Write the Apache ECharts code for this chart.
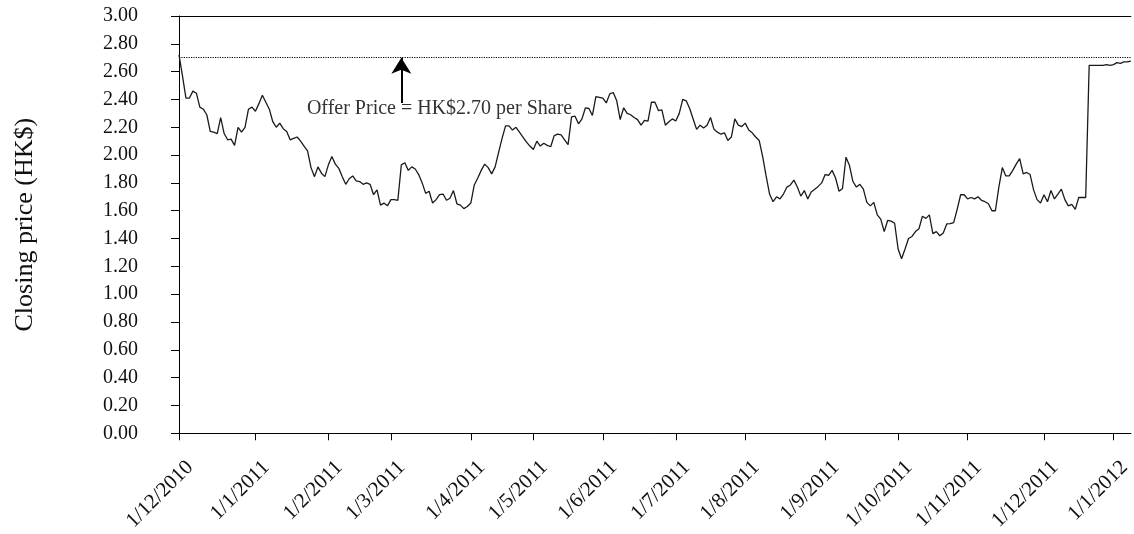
<!doctype html>
<html>
    <head>
        <meta charset="utf-8">
        <style>
            html, body { margin: 0; padding: 0; background: #fff; }
            #main { width: 1134px; height: 534px; }
        </style>
    </head>
    <body>
        <div id="main"></div>
        <script src="https://cdn.jsdelivr.net/npm/echarts@6/dist/echarts.min.js"></script>
        <script>
            // HK trading days from 1 Dec 2010 to 10 Jan 2012
            var startDate = [2010, 12, 1];
            var endDate = [2012, 1, 10];
            var holidays = [
                '2010-12-27', '2011-02-03', '2011-02-04', '2011-04-05', '2011-04-22',
                '2011-04-25', '2011-05-02', '2011-05-10', '2011-06-06', '2011-07-01',
                '2011-09-13', '2011-10-05', '2011-12-26', '2011-12-27', '2012-01-02'
            ];

            // closing price (HK$), one per trading day
            var closingPrices = [
                2.72, 2.57, 2.41, 2.41, 2.46, 2.445, 2.345, 2.33, 2.29, 2.17,
                2.165, 2.155, 2.27, 2.155, 2.11, 2.115, 2.07, 2.20, 2.165, 2.20,
                2.33, 2.345, 2.315, 2.37, 2.43, 2.38, 2.33, 2.24, 2.20, 2.23,
                2.19, 2.17, 2.11, 2.12, 2.13, 2.10, 2.065, 2.03, 1.91, 1.845,
                1.915, 1.87, 1.845, 1.93, 1.99, 1.935, 1.905, 1.845, 1.79, 1.83,
                1.85, 1.815, 1.81, 1.79, 1.80, 1.79, 1.715, 1.75, 1.64, 1.655,
                1.635, 1.68, 1.68, 1.675, 1.93, 1.945, 1.89, 1.915, 1.90, 1.86,
                1.80, 1.725, 1.74, 1.655, 1.68, 1.715, 1.72, 1.675, 1.69, 1.745,
                1.65, 1.64, 1.615, 1.63, 1.655, 1.785, 1.835, 1.89, 1.935, 1.91,
                1.865, 1.915, 2.02, 2.12, 2.21, 2.21, 2.18, 2.20, 2.165, 2.13,
                2.095, 2.065, 2.04, 2.10, 2.065, 2.085, 2.07, 2.06, 2.14, 2.15,
                2.145, 2.11, 2.075, 2.275, 2.28, 2.225, 2.26, 2.34, 2.335, 2.285,
                2.42, 2.415, 2.41, 2.375, 2.44, 2.45, 2.39, 2.255, 2.34, 2.30,
                2.29, 2.27, 2.255, 2.215, 2.25, 2.245, 2.38, 2.38, 2.32, 2.325,
                2.215, 2.24, 2.26, 2.245, 2.30, 2.40, 2.39, 2.335, 2.26, 2.185,
                2.215, 2.195, 2.215, 2.27, 2.185, 2.165, 2.15, 2.16, 2.105, 2.13,
                2.26, 2.215, 2.205, 2.23, 2.18, 2.16, 2.13, 2.105, 1.99, 1.85,
                1.72, 1.665, 1.70, 1.685, 1.72, 1.77, 1.785, 1.82, 1.77, 1.705,
                1.745, 1.685, 1.735, 1.755, 1.775, 1.80, 1.86, 1.855, 1.89, 1.835,
                1.74, 1.76, 1.985, 1.925, 1.81, 1.77, 1.79, 1.755, 1.66, 1.635,
                1.66, 1.57, 1.54, 1.45, 1.53, 1.525, 1.51, 1.325, 1.255, 1.325,
                1.40, 1.415, 1.45, 1.47, 1.56, 1.545, 1.57, 1.435, 1.45, 1.42,
                1.44, 1.505, 1.507, 1.515, 1.61, 1.715, 1.715, 1.685, 1.695, 1.685,
                1.70, 1.675, 1.665, 1.65, 1.60, 1.60, 1.77, 1.91, 1.85, 1.85,
                1.89, 1.935, 1.975, 1.865, 1.875, 1.86, 1.75, 1.68, 1.655, 1.715,
                1.665, 1.745, 1.685, 1.72, 1.755, 1.68, 1.635, 1.645, 1.61, 1.695,
                1.695, 1.695, 2.645, 2.645, 2.645, 2.645, 2.645, 2.65, 2.645, 2.65,
                2.665, 2.66, 2.67, 2.67, 2.675
            ];

            var offerPrice = 2.70;
            var offerText = 'Offer Price = HK$2.70 per Share';
            var arrowDay = 64;      // trading day the arrow stands on
            var arrowBase = 2.375;
            var noteDay = 75;
            var noteLevel = 2.335;

            // build the trading-day categories
            var dates = [];
            var monthStart = [];
            var d = Date.UTC(startDate[0], startDate[1] - 1, startDate[2]);
            var end = Date.UTC(endDate[0], endDate[1] - 1, endDate[2]);
            var lastMonth = -1;
            while (d <= end) {
                var dt = new Date(d);
                var wd = dt.getUTCDay();
                var iso = dt.toISOString().slice(0, 10);
                if (wd !== 0 && wd !== 6 && holidays.indexOf(iso) < 0) {
                    var m = dt.getUTCMonth();
                    monthStart.push(m !== lastMonth);
                    lastMonth = m;
                    dates.push(dt.getUTCDate() + '/' + (m + 1) + '/' + dt.getUTCFullYear());
                }
                d += 86400000;
            }

            var showMonth = function (index) {
                return !!monthStart[index];
            };

            var font = 'Liberation Serif';
            var chart = echarts.init(document.getElementById('main'));

            chart.setOption({
                animation: false,
                backgroundColor: '#fff',
                grid: {
                    left: 179,
                    right: 1,
                    top: 16,
                    bottom: 99
                },
                xAxis: [{
                    type: 'category',
                    data: dates,
                    boundaryGap: false,
                    axisLine: { lineStyle: { color: '#000', width: 1 } },
                    axisTick: {
                        interval: showMonth,
                        length: 7,
                        lineStyle: { color: '#000' }
                    },
                    axisLabel: {
                        interval: showMonth,
                        rotate: 45,
                        margin: 20,
                        verticalAlign: 'top',
                        padding: [5, 0, 0, 0],
                        color: '#111',
                        fontFamily: font,
                        fontSize: 21,
                        formatter: function (v) {
                            var p = v.split('/');
                            return '1/' + p[1] + '/' + p[2];
                        }
                    },
                    splitLine: { show: false }
                }, {
                    type: 'category',
                    position: 'top',
                    data: dates,
                    boundaryGap: false,
                    axisLine: { lineStyle: { color: '#000', width: 1 } },
                    axisTick: { show: false },
                    axisLabel: { show: false }
                }],
                yAxis: {
                    type: 'value',
                    min: 0,
                    max: 3,
                    interval: 0.2,
                    name: 'Closing price (HK$)',
                    nameLocation: 'middle',
                    nameGap: 141,
                    nameRotate: 90,
                    nameTextStyle: {
                        fontFamily: font,
                        fontSize: 26,
                        color: '#111'
                    },
                    axisLine: { show: true, lineStyle: { color: '#000', width: 1 } },
                    axisTick: {
                        show: true,
                        length: 8,
                        lineStyle: { color: '#000' }
                    },
                    axisLabel: {
                        margin: 41,
                        color: '#111',
                        fontFamily: font,
                        fontSize: 20,
                        formatter: function (v) {
                            return v.toFixed(2);
                        }
                    },
                    splitLine: { show: false }
                },
                series: [{
                    type: 'line',
                    data: closingPrices,
                    showSymbol: false,
                    symbol: 'none',
                    lineStyle: { color: '#1a1a1a', width: 1.3 },
                    markLine: {
                        silent: true,
                        symbol: ['none', 'none'],
                        label: { show: false },
                        data: [
                            {
                                yAxis: offerPrice,
                                lineStyle: { type: 'dotted', color: '#000', width: 1.2 }
                            },
                            [
                                {
                                    coord: [arrowDay, arrowBase],
                                    symbol: 'none',
                                    lineStyle: { type: 'solid', color: '#000', width: 2 }
                                },
                                {
                                    coord: [arrowDay, offerPrice],
                                    symbol: 'arrow',
                                    symbolSize: [15, 16]
                                }
                            ]
                        ]
                    },
                    markPoint: {
                        silent: true,
                        symbol: 'rect',
                        symbolSize: 0,
                        label: {
                            show: true,
                            position: 'inside',
                            color: '#333',
                            fontFamily: font,
                            fontSize: 20,
                            formatter: offerText
                        },
                        data: [{ coord: [noteDay, noteLevel] }]
                    }
                }]
            });

            window.onresize = chart.resize;
        </script>
    </body>
</html>
